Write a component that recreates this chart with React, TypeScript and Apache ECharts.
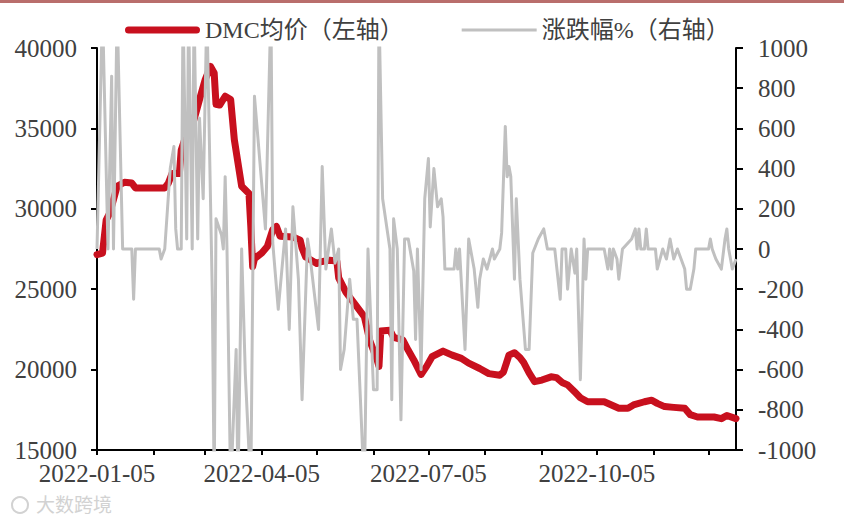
import React, { useEffect, useRef } from 'react';
import * as echarts from 'echarts';

const axisStart = '2022-01-05';
const axisEnd = '2022-12-20';
const xLabelDates = ['2022-01-05', '2022-04-05', '2022-07-05', '2022-10-05'];

const priceName = 'DMC均价（左轴）';
const pctName = '涨跌幅%（右轴）';

const priceDates = [
  '01-05', '01-08', '01-10', '01-12', '01-16', '01-20', '01-24', '01-26', '02-11', '02-13',
  '02-15', '02-19', '02-20', '02-23', '02-27', '03-02', '03-05', '03-08', '03-10', '03-11',
  '03-13', '03-16', '03-19', '03-21', '03-23', '03-25', '03-29', '03-30', '03-31', '04-01',
  '04-05', '04-08', '04-11', '04-13', '04-15', '04-22', '04-26', '04-27', '04-29', '05-05',
  '05-07', '05-12', '05-16', '05-17', '05-21', '05-27', '05-31', '06-03', '06-07', '06-08',
  '06-09', '06-14', '06-16', '06-21', '06-24', '06-27', '07-01', '07-04', '07-07', '07-13',
  '07-18', '07-23', '07-27', '08-02', '08-07', '08-13', '08-15', '08-18', '08-21', '08-24',
  '08-26', '08-29', '09-01', '09-05', '09-10', '09-13', '09-16', '09-19', '09-23', '09-26',
  '09-30', '10-09', '10-13', '10-17', '10-22', '10-25', '10-31', '11-04', '11-07', '11-11',
  '11-16', '11-22', '11-25', '11-29', '12-04', '12-08', '12-12', '12-15', '12-20',
];
const priceValues = [
  27150, 27250, 29300, 29750, 31400, 31650, 31600, 31300, 31300, 31600,
  32200, 32200, 33650, 34700, 35550, 36800, 38000, 38850, 38450, 36500,
  36450, 37000, 36800, 34300, 32850, 31400, 30950, 28900, 26400, 26900,
  27250, 27650, 28700, 28900, 28300, 28250, 28050, 27550, 27000, 26600,
  26700, 26800, 26750, 25700, 24800, 23900, 23300, 21800, 20600, 20200,
  22400, 22450, 22000, 21850, 21200, 20600, 19700, 20200, 20800, 21150,
  20900, 20700, 20400, 20070, 19750, 19650, 19850, 20900, 21050, 20750,
  20450, 19800, 19250, 19350, 19550, 19500, 19200, 19050, 18600, 18250,
  18000, 18000, 17800, 17600, 17600, 17800, 18000, 18100, 17900, 17700,
  17650, 17600, 17200, 17050, 17050, 17050, 16950, 17150, 16950,
];

const pctDates = [
  '01-05', '01-08', '01-11', '01-13', '01-14', '01-16', '01-19', '01-24', '01-25', '01-26',
  '02-08', '02-09', '02-11', '02-14', '02-16', '02-17', '02-18', '02-20', '02-21', '02-23',
  '02-24', '02-26', '02-27', '03-01', '03-02', '03-04', '03-06', '03-09', '03-10', '03-11',
  '03-14', '03-15', '03-16', '03-17', '03-19', '03-22', '03-23', '03-25', '03-27', '03-30',
  '04-01', '04-07', '04-10', '04-11', '04-14', '04-18', '04-20', '04-22', '04-25', '04-27',
  '04-30', '05-01', '05-06', '05-08', '05-10', '05-13', '05-15', '05-17', '05-18', '05-20',
  '05-23', '05-25', '05-27', '05-31', '06-02', '06-05', '06-07', '06-08', '06-10', '06-14',
  '06-15', '06-16', '06-18', '06-20', '06-22', '06-24', '06-27', '06-28', '06-29', '07-01',
  '07-03', '07-05', '07-06', '07-08', '07-10', '07-12', '07-13', '07-14', '07-19', '07-20',
  '07-21', '07-22', '07-25', '07-27', '07-30', '08-01', '08-02', '08-04', '08-06', '08-09',
  '08-10', '08-13', '08-14', '08-16', '08-17', '08-18', '08-19', '08-21', '08-22', '08-24',
  '08-27', '08-29', '08-31', '09-03', '09-06', '09-08', '09-12', '09-15', '09-16', '09-18',
  '09-19', '09-21', '09-23', '09-24', '09-26', '09-28', '09-29', '09-30', '10-09', '10-11',
  '10-12', '10-13', '10-14', '10-16', '10-17', '10-19', '10-24', '10-26', '10-27', '10-28',
  '10-29', '10-31', '11-01', '11-02', '11-06', '11-07', '11-10', '11-12', '11-14', '11-16',
  '11-18', '11-20', '11-22', '11-23', '11-25', '11-27', '11-28', '12-05', '12-06', '12-07',
  '12-09', '12-12', '12-14', '12-15', '12-16', '12-18', '12-20',
];
const pctValues = [
  0, 1200, 0, 860, 0, 1200, 0, 0, -250, 0,
  0, -50, 0, 400, 510, 100, 0, 0, 1200, 50,
  1200, 0, 1200, 50, 650, 250, 1200, -240, -1200, 150,
  70, 0, 360, 0, -1200, -500, -1200, 0, -620, -1200,
  760, 100, 1200, 30, -300, 100, -400, 210, -150, -750,
  50, -10, -400, 410, -100, 100, -70, 0, -600, -500,
  -150, -350, -350, -1200, 0, -700, -700, 1200, 250, 0,
  -750, 150, 0, -850, 50, 50, -110, -450, 0, -600,
  250, 450, 110, 400, 210, 250, 160, -100, -100, 0,
  -100, 0, -500, 50, -100, -290, -150, -50, -100, 0,
  -50, 0, 80, 610, 360, 410, 360, -150, 250, -150,
  -500, -500, -20, 50, 100, 0, 0, -250, 0, 0,
  -200, 0, -120, 0, -650, 50, -150, 0, 0, -100,
  0, -100, 0, -50, -150, 0, 50, 100, 0, 100,
  0, 0, 100, 0, 0, -100, 0, -50, 50, -50,
  0, -50, -100, -200, -200, -100, 0, 0, 50, 0,
  -50, -100, 50, 100, 0, -100, -50,
];

const YEAR = '2022-';

function buildDays(start: string, end: string): string[] {
  const out: string[] = [];
  const d = new Date(start + 'T00:00:00Z');
  const e = new Date(end + 'T00:00:00Z');
  while (d.getTime() <= e.getTime()) {
    out.push(d.toISOString().slice(0, 10));
    d.setUTCDate(d.getUTCDate() + 1);
  }
  return out;
}

const LATIN = "'Liberation Serif', 'Times New Roman', 'Noto Sans CJK SC', serif";
const TEXT_COLOR = '#404040';

export default function App() {
  const ref = useRef<HTMLDivElement>(null);

  useEffect(() => {
    if (!ref.current) return;
    const chart = echarts.init(ref.current, undefined, { renderer: 'svg' });
    const days = buildDays(axisStart, axisEnd);
    const priceData = priceDates.map((d, i) => [YEAR + d, priceValues[i]]);
    const pctData = pctDates.map((d, i) => [YEAR + d, pctValues[i]]);

    chart.setOption({
      animation: false,
      backgroundColor: '#ffffff',
      grid: { left: 97, right: 108, top: 48, bottom: 72, containLabel: false },
      legend: {
        left: 120,
        top: 13,
        itemWidth: 75,
        itemHeight: 14,
        itemGap: 58,
        textStyle: { fontSize: 24, color: TEXT_COLOR, fontFamily: LATIN },
        data: [
          { name: priceName, icon: 'path://M3.5,0 L71.5,0 A3.5,3.5 0 0 1 71.5,7 L3.5,7 A3.5,3.5 0 0 1 3.5,0 Z' },
          { name: pctName, icon: 'path://M0,0 L75,0 L75,3 L0,3 Z' },
        ],
      },
      xAxis: {
        type: 'category',
        data: days,
        boundaryGap: false,
        axisLine: { show: true, onZero: false, lineStyle: { color: '#000', width: 2 } },
        axisTick: {
          show: true,
          length: 5,
          lineStyle: { color: '#000', width: 2 },
          interval: (_i: number, v: string) => v.endsWith('-05'),
        },
        axisLabel: {
          interval: (_i: number, v: string) => xLabelDates.includes(v),
          fontSize: 25,
          color: TEXT_COLOR,
          fontFamily: LATIN,
          margin: 11,
        },
        splitLine: { show: false },
      },
      yAxis: [
        {
          type: 'value',
          min: 15000,
          max: 40000,
          interval: 5000,
          position: 'left',
          axisLine: { show: true, lineStyle: { color: '#000', width: 2 } },
          axisTick: { show: true, length: 6, lineStyle: { color: '#000', width: 2 } },
          axisLabel: {
            fontSize: 25,
            color: TEXT_COLOR,
            fontFamily: LATIN,
            margin: 20,
            formatter: (v: number) => String(v),
          },
          splitLine: { show: false },
        },
        {
          type: 'value',
          min: -1000,
          max: 1000,
          interval: 200,
          position: 'right',
          axisLine: { show: true, lineStyle: { color: '#000', width: 2 } },
          axisTick: { show: true, length: 7, lineStyle: { color: '#000', width: 2 } },
          axisLabel: {
            fontSize: 25,
            color: TEXT_COLOR,
            fontFamily: LATIN,
            margin: 22,
            formatter: (v: number) => String(v),
          },
          splitLine: { show: false },
        },
      ],
      series: [
        {
          name: priceName,
          type: 'line',
          yAxisIndex: 0,
          data: priceData,
          symbol: 'none',
          color: '#c8101e',
          lineStyle: { color: '#c8101e', width: 7, cap: 'round', join: 'round' },
          clip: true,
          z: 2,
        },
        {
          name: pctName,
          type: 'line',
          yAxisIndex: 1,
          data: pctData,
          symbol: 'none',
          color: '#c0c0c0',
          lineStyle: { color: '#c0c0c0', width: 3, join: 'round' },
          clip: true,
          z: 3,
        },
      ],
      graphic: [
        { type: 'rect', left: 0, top: 0, shape: { width: 844, height: 3 }, style: { fill: '#b96e6c' }, silent: true },
        {
          type: 'text',
          left: 36,
          top: 494,
          style: { text: '大数跨境', fontSize: 19, fill: '#d2d2d2', fontFamily: "'Noto Sans CJK SC', sans-serif" },
          silent: true,
        },
        {
          type: 'circle',
          shape: { cx: 20, cy: 505, r: 8 },
          style: { fill: 'none', stroke: '#d2d2d2', lineWidth: 2 },
          silent: true,
        },
      ],
    });

    return () => chart.dispose();
  }, []);

  return (
    <div
      ref={ref}
      style={{ position: 'fixed', left: 0, top: 0, width: 844, height: 522, background: '#fff' }}
    />
  );
}
